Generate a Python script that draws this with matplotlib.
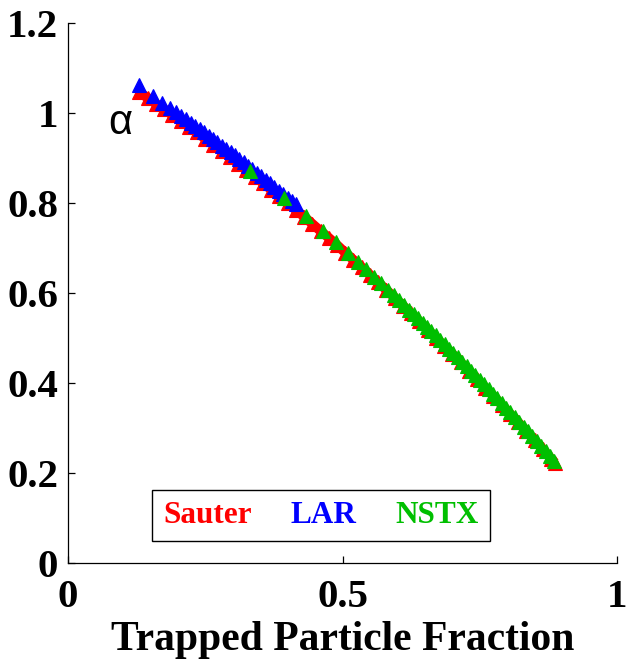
import matplotlib
matplotlib.use("Agg")
import matplotlib.pyplot as plt
from matplotlib.lines import Line2D

# Sauter formula (red), LAR (blue), NSTX (green): alpha vs trapped fraction
sauter_f = [0.130, 0.145, 0.160, 0.175, 0.190, 0.205, 0.220, 0.235, 0.250, 0.265,
            0.280, 0.295, 0.310, 0.325, 0.340, 0.355, 0.370, 0.385, 0.400, 0.415,
            0.430, 0.445, 0.460, 0.475, 0.490, 0.505, 0.520, 0.535, 0.550, 0.565,
            0.580, 0.595, 0.610, 0.625, 0.640, 0.655, 0.670, 0.685, 0.700, 0.715,
            0.730, 0.745, 0.760, 0.775, 0.790, 0.805, 0.820, 0.835, 0.850, 0.865,
            0.880, 0.887]
sauter_a = [1.045, 1.033, 1.020, 1.008, 0.995, 0.982, 0.969, 0.956, 0.942, 0.929,
            0.915, 0.901, 0.887, 0.873, 0.858, 0.844, 0.829, 0.814, 0.799, 0.784,
            0.769, 0.753, 0.737, 0.722, 0.706, 0.689, 0.673, 0.656, 0.640, 0.623,
            0.606, 0.589, 0.571, 0.554, 0.536, 0.518, 0.500, 0.482, 0.464, 0.445,
            0.427, 0.408, 0.389, 0.370, 0.351, 0.331, 0.312, 0.292, 0.272, 0.252,
            0.231, 0.222]

lar_f = [0.130, 0.155, 0.172, 0.185, 0.196, 0.206, 0.215, 0.224, 0.232, 0.240,
         0.248, 0.256, 0.264, 0.272, 0.280, 0.288, 0.296, 0.304, 0.312, 0.320,
         0.328, 0.336, 0.344, 0.352, 0.360, 0.368, 0.376, 0.384, 0.392, 0.400,
         0.408, 0.415]
lar_a = [1.062, 1.036, 1.022, 1.011, 1.002, 0.993, 0.985, 0.977, 0.970, 0.963,
         0.956, 0.949, 0.942, 0.934, 0.927, 0.920, 0.912, 0.905, 0.897, 0.890,
         0.882, 0.874, 0.867, 0.859, 0.851, 0.843, 0.835, 0.827, 0.819, 0.811,
         0.803, 0.796]

nstx_f = [0.331, 0.393, 0.433, 0.464, 0.488, 0.510, 0.528, 0.543, 0.558, 0.570,
          0.583, 0.594, 0.603, 0.612, 0.622, 0.630, 0.638, 0.646, 0.654, 0.662,
          0.670, 0.678, 0.686, 0.694, 0.702, 0.710, 0.718, 0.726, 0.734, 0.742,
          0.750, 0.758, 0.766, 0.774, 0.782, 0.790, 0.798, 0.806, 0.814, 0.822,
          0.830, 0.838, 0.846, 0.854, 0.862, 0.870, 0.878, 0.886]
nstx_a = [0.871, 0.810, 0.770, 0.737, 0.712, 0.688, 0.668, 0.652, 0.635, 0.621,
          0.607, 0.594, 0.584, 0.573, 0.561, 0.552, 0.543, 0.533, 0.524, 0.514,
          0.505, 0.495, 0.485, 0.475, 0.466, 0.456, 0.446, 0.436, 0.426, 0.416,
          0.406, 0.396, 0.385, 0.375, 0.365, 0.355, 0.344, 0.334, 0.323, 0.313,
          0.302, 0.292, 0.281, 0.270, 0.260, 0.249, 0.238, 0.227]

names = ["Sauter", "LAR", "NSTX"]
colours = ["#ff0000", "#0000ff", "#00bf00"]
xticks = [0, 0.5, 1]
yticks = [0, 0.2, 0.4, 0.6, 0.8, 1, 1.2]

serif = ["Liberation Serif", "DejaVu Serif"]

fig = plt.figure(figsize=(6.31, 6.61), dpi=100)
ax = fig.add_axes([0.1078, 0.1487, 0.8700, 0.8170])

# red is drawn as a thick band of overlapping triangles
ax.plot(sauter_f, sauter_a, "-^", color=colours[0], lw=7, markersize=10,
        markeredgewidth=0.8, solid_capstyle="butt", clip_on=False)
ax.plot(lar_f, lar_a, "^", color=colours[1], markersize=10,
        markeredgewidth=0.8, clip_on=False)
ax.plot(nstx_f, nstx_a, "^", color=colours[2], markersize=10,
        markeredgewidth=0.8, clip_on=False)

ax.set_xlim(0, 1)
ax.set_ylim(0, 1.2)
ax.spines["top"].set_visible(False)
ax.spines["right"].set_visible(False)
for s in ("left", "bottom"):
    ax.spines[s].set_linewidth(0.9)
ax.set_xticks(xticks, ["0", "0.5", "1"])
ax.set_yticks(yticks, ["0", "0.2", "0.4", "0.6", "0.8", "1", "1.2"])
ax.tick_params(direction="in", length=5, width=0.9, labelsize=29.5)
ax.tick_params(axis="y", pad=7)
ax.tick_params(axis="x", pad=12)
for lbl in ax.get_xticklabels() + ax.get_yticklabels():
    lbl.set(family=serif, weight="bold")

ax.set_xlabel("Trapped Particle Fraction", family=serif, weight="bold",
              fontsize=30, labelpad=3)
ax.text(0.095, 0.976, "\u03b1", family=["Liberation Sans", "DejaVu Sans"],
        fontsize=30, ha="center", va="center")

handles = [Line2D([], [], linestyle="none") for _ in names]
leg = ax.legend(handles, names, ncol=3, loc="lower left",
                bbox_to_anchor=(0.153, 0.040), borderaxespad=0,
                handlelength=0, handletextpad=0, columnspacing=1.25,
                borderpad=0.35, fancybox=False, framealpha=1,
                edgecolor="black", labelcolor=colours,
                prop={"family": serif, "weight": "bold", "size": 22.5})
leg.get_frame().set_linewidth(1.0)

fig.savefig("out.png", dpi=100)
